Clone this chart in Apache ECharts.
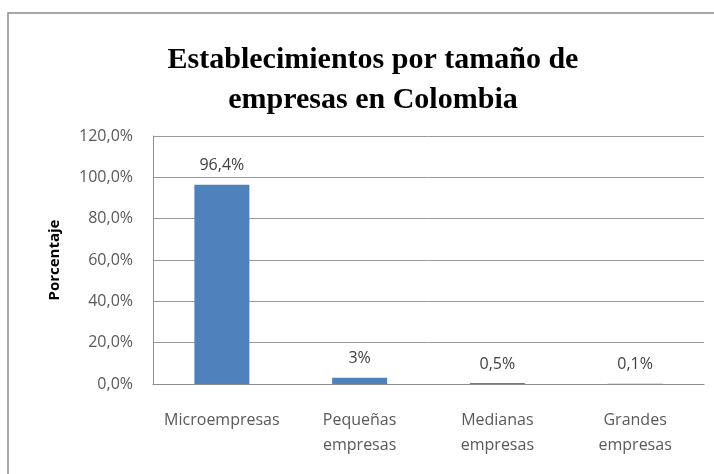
<!DOCTYPE html>
<html><head><meta charset="utf-8">
<script src="https://cdn.jsdelivr.net/npm/echarts@6/dist/echarts.min.js"></script>
<style>html,body{margin:0;padding:0;background:#fff}#c{width:714px;height:474px}</style>
</head><body><div id="c"></div>
<script>
const categories = ['Microempresas', 'Pequeñas\nempresas', 'Medianas\nempresas', 'Grandes\nempresas'];
const values = [96.4, 3, 0.5, 0.1];
const valueLabels = ['96,4%', '3%', '0,5%', '0,1%'];
const titleText = 'Establecimientos por tamaño de\nempresas en Colombia';
const yAxisName = 'Porcentaje';

const chart = echarts.init(document.getElementById('c'));
chart.setOption({
  animation: false,
  backgroundColor: '#fff',
  graphic: [{
    type: 'rect', shape: {x: 8, y: 13, width: 720, height: 480},
    style: {fill: 'none', stroke: '#8c8c8c', lineWidth: 1.5}, silent: true
  }],
  title: {
    text: titleText, left: 368, top: 35, textAlign: 'center',
    textStyle: {fontFamily: 'Liberation Serif', fontWeight: 'bold', fontSize: 30, lineHeight: 40, color: '#000'}
  },
  grid: {left: 153, right: 10, top: 136, bottom: 90},
  xAxis: {
    type: 'category', data: categories,
    axisLine: {show: true, lineStyle: {color: '#8c8c8c'}},
    axisTick: {show: false},
    axisLabel: {color: '#595959', fontFamily: 'Open Sans', fontSize: 16, lineHeight: 25, margin: 24, interval: 0}
  },
  yAxis: {
    type: 'value', min: 0, max: 120, interval: 20,
    name: yAxisName, nameLocation: 'middle', nameGap: 91, nameRotate: 90,
    nameTextStyle: {fontFamily: 'Open Sans', fontWeight: 'bold', fontSize: 15, color: '#000'},
    axisLine: {show: true, lineStyle: {color: '#8c8c8c'}},
    axisTick: {show: false},
    splitLine: {lineStyle: {color: '#9a9a9a'}},
    axisLabel: {color: '#595959', fontFamily: 'Open Sans', fontSize: 16, margin: 20,
      formatter: v => v.toFixed(1).replace('.', ',') + '%'}
  },
  series: [{
    type: 'bar', data: values, barWidth: 55,
    itemStyle: {color: '#4f81bd'},
    label: {show: true, position: 'top', distance: 11, color: '#404040', fontFamily: 'Open Sans', fontSize: 16,
      formatter: p => valueLabels[p.dataIndex]}
  }]
});
</script></body></html>
